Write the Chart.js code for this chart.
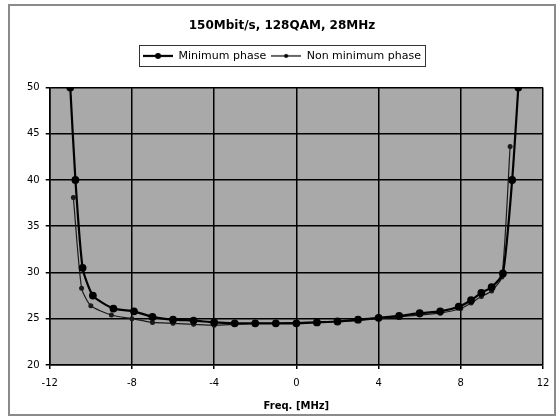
<!DOCTYPE html>
<html>
<head>
<meta charset="utf-8">
<script src="https://cdn.jsdelivr.net/npm/chart.js@4/dist/chart.umd.min.js"></script>
<style>
	html, body { margin: 0; padding: 0; background: #fff; }
	#wrap { width: 558px; height: 419px; }
</style>
</head>
<body>
<div id="wrap"><canvas id="chart" width="558" height="419"></canvas></div>
<script>
const minFreq = [-11, -10.75, -10.4, -9.9, -8.9, -7.9, -7, -6, -5, -4, -3, -2, -1, 0, 1, 2, 3, 4, 5, 6, 7, 7.9, 8.5, 9, 9.5, 10.05, 10.5, 10.8];
const minPhase = [50, 40, 30.5, 27.5, 26.1, 25.8, 25.2, 24.9, 24.8, 24.6, 24.5, 24.5, 24.5, 24.5, 24.6, 24.7, 24.9, 25.1, 25.3, 25.6, 25.8, 26.3, 27, 27.8, 28.4, 29.9, 40, 50];

const nonMinFreq = [-10.85, -10.45, -10, -9, -8, -7, -6, -5, -4, -3, -2, -1, 0, 1, 2, 3, 4, 5, 6, 7, 8, 8.5, 9, 9.5, 10, 10.4];
const nonMinPhase = [38.1, 28.3, 26.4, 25.4, 25, 24.6, 24.5, 24.4, 24.3, 24.4, 24.5, 24.5, 24.6, 24.6, 24.7, 24.8, 25, 25.2, 25.4, 25.6, 26.1, 26.7, 27.4, 28, 29.5, 43.6];

const xTicks = [-12, -8, -4, 0, 4, 8, 12];

function toPoints(xs, ys)
{
	return xs.map((x, i) => ({ x: x, y: ys[i] }));
}

function legendIcon(radius, width)
{
	const c = document.createElement('canvas');
	c.width = 30;
	c.height = 10;
	const g = c.getContext('2d');
	g.strokeStyle = '#000';
	g.lineWidth = width;
	g.beginPath();
	g.moveTo(0, 5);
	g.lineTo(30, 5);
	g.stroke();
	g.fillStyle = '#000';
	g.beginPath();
	g.arc(15, 5, radius, 0, Math.PI * 2);
	g.fill();
	return c;
}

const icons = [legendIcon(3, 2.2), legendIcon(2, 1.2)];

const framePlugin = {
	id: 'frame',
	beforeInit(chart)
	{
		const fit = chart.legend.fit;
		chart.legend.fit = function()
		{
			fit.call(this);
			this.height += 16;
		};
	},
	beforeDraw(chart)
	{
		const ctx = chart.ctx;
		const a = chart.chartArea;
		ctx.save();
		ctx.fillStyle = '#fff';
		ctx.fillRect(0, 0, chart.width, chart.height);
		ctx.strokeStyle = '#8a8a8a';
		ctx.lineWidth = 2;
		ctx.strokeRect(9, 5, 546, 410);
		ctx.fillStyle = '#a9a9a9';
		ctx.fillRect(a.left, a.top, a.right - a.left, a.bottom - a.top);
		ctx.restore();
	},
	afterDraw(chart)
	{
		const ctx = chart.ctx;
		const boxes = chart.legend.legendHitBoxes;
		if (!boxes || !boxes.length) return;
		const left = Math.min(...boxes.map(b => b.left)) - 4;
		const right = Math.max(...boxes.map(b => b.left + b.width)) + 4;
		const top = Math.min(...boxes.map(b => b.top)) - 5;
		const bottom = Math.max(...boxes.map(b => b.top + b.height)) + 5;
		ctx.save();
		ctx.strokeStyle = '#333';
		ctx.lineWidth = 1;
		ctx.strokeRect(Math.round(left) + 0.5, Math.round(top) + 0.5, Math.round(right - left), Math.round(bottom - top));
		ctx.restore();
	}
};

new Chart(document.getElementById('chart'), {
	type: 'scatter',
	data: {
		datasets: [
			{
				label: 'Minimum phase',
				data: toPoints(minFreq, minPhase),
				showLine: true,
				borderColor: '#000',
				backgroundColor: '#000',
				borderWidth: 2.2,
				pointRadius: 2.8,
				pointHoverRadius: 2.8,
				tension: 0.2
			},
			{
				label: 'Non minimum phase',
				data: toPoints(nonMinFreq, nonMinPhase),
				showLine: true,
				borderColor: '#1a1a1a',
				backgroundColor: '#1a1a1a',
				borderWidth: 1.2,
				pointRadius: 1.9,
				pointHoverRadius: 1.9,
				tension: 0.2
			}
		]
	},
	options: {
		responsive: false,
		animation: false,
		layout: {
			padding: { left: 21, right: 15, top: 0, bottom: 3 }
		},
		plugins: {
			title: {
				display: true,
				text: '150Mbit/s, 128QAM, 28MHz',
				color: '#000',
				font: { family: 'DejaVu Sans', size: 12, weight: 'bold' },
				padding: { top: 19, bottom: 12 }
			},
			legend: {
				display: true,
				position: 'top',
				labels: {
					color: '#000',
					font: { family: 'DejaVu Sans', size: 11 },
					usePointStyle: true,
					pointStyleWidth: 30,
					boxHeight: 10,
					padding: 5,
					generateLabels(chart)
					{
						return chart.data.datasets.map((d, i) => ({
							text: d.label,
							datasetIndex: i,
							pointStyle: icons[i],
							fillStyle: '#000',
							strokeStyle: '#000',
							lineWidth: 0,
							fontColor: '#000'
						}));
					}
				}
			},
			tooltip: { enabled: false }
		},
		scales: {
			x: {
				type: 'linear',
				min: -12,
				max: 12,
				afterBuildTicks(axis)
				{
					axis.ticks = xTicks.map(v => ({ value: v }));
				},
				title: {
					display: true,
					text: 'Freq. [MHz]',
					color: '#000',
					font: { family: 'DejaVu Sans', size: 10, weight: 'bold' },
					padding: { top: 3 }
				},
				ticks: {
					color: '#000',
					font: { family: 'DejaVu Sans', size: 10 },
					maxRotation: 0,
					padding: 8
				},
				grid: { color: '#000', lineWidth: 1.5, tickLength: 4 },
				border: { color: '#000', width: 1.5 }
			},
			y: {
				min: 20,
				max: 50,
				ticks: {
					stepSize: 5,
					color: '#000',
					font: { family: 'DejaVu Sans', size: 10 },
					padding: 6
				},
				grid: { color: '#000', lineWidth: 1.5, tickLength: 4 },
				border: { color: '#000', width: 1.5 }
			}
		}
	},
	plugins: [framePlugin]
});
</script>
</body>
</html>
